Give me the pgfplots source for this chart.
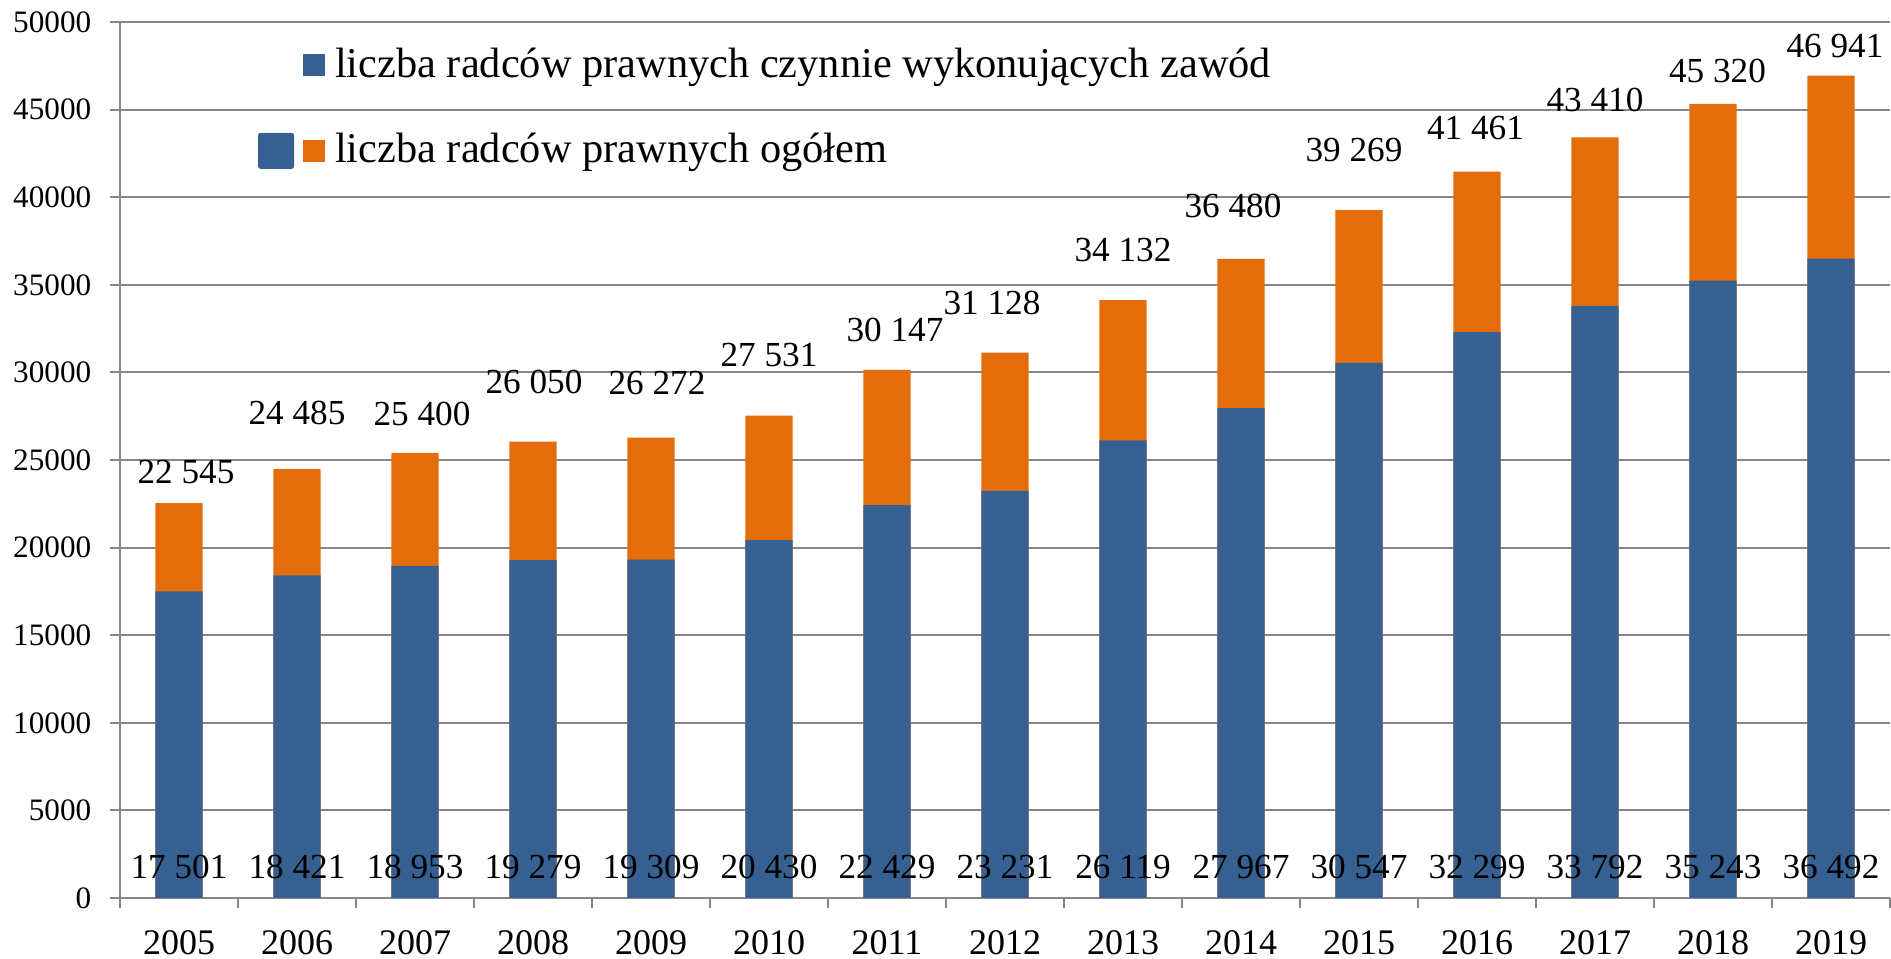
\documentclass[border=0pt]{standalone}
\usepackage{fontspec}
\setmainfont{Liberation Serif}
\usepackage{pgfplots}
\usepackage{pgfplotstable}
\pgfplotsset{compat=1.18}
\definecolor{cblue}{HTML}{376092}
\definecolor{corange}{HTML}{E46C0A}
\definecolor{cgrid}{HTML}{868686}
\newcommand\lbl{\fontsize{8.8}{10}\selectfont}

\pgfplotstableread{
x year active total base dx dy
0 2005 17501 22545 0 1.75 5
1 2006 18421 24485 0 0 11.25
2 2007 18953 25400 0 1.75 6.75
3 2008 19279 26050 0 0.25 12
4 2009 19309 26272 0 1.5 10.75
5 2010 20430 27531 0 0 12.25
6 2011 22429 30147 0 2 7
7 2012 23231 31128 0 -3.25 9.5
8 2013 26119 34132 0 0 9.75
9 2014 27967 36480 0 -2 10.25
10 2015 30547 39269 0 -1.25 12
11 2016 32299 41461 0 -0.375 8
12 2017 33792 43410 0 0 6.5
13 2018 35243 45320 0 1.125 5.25
14 2019 36492 46941 0 1 4.5
}\data

\begin{document}
\begin{tikzpicture}
\begin{axis}[
  scale only axis, width=442.5pt, height=219pt,
  xmin=-0.5, xmax=14.5, ymin=0, ymax=50000,
  axis x line*=bottom, axis y line*=left,
  axis line style={cgrid, line width=0.5pt},
  ymajorgrids, grid style={cgrid, line width=0.5pt},
  ytick={0,5000,...,50000},
  scaled y ticks=false,
  y tick label style={/pgf/number format/1000 sep={}, /pgf/number format/fixed, /pgf/number format/precision=0, /pgf/number format/assume math mode=true, font=\fontsize{7.8}{9}\selectfont, inner sep=0pt, xshift=-4.5pt},
  xtick={-0.5,0.5,...,14.5},
  x tick label as interval,
  xticklabels={2005,2006,2007,2008,2009,2010,2011,2012,2013,2014,2015,2016,2017,2018,2019,},
  x tick label style={font=\fontsize{9}{10}\selectfont, inner sep=0pt, yshift=-5.5pt},
  tick align=outside,
  major tick length=2.5pt,
  tick style={cgrid, line width=0.5pt},
  clip=false,
  legend cell align=left,
  legend style={draw=none, fill=none, at={(0.078,0.971)}, anchor=north west,
    inner sep=0pt, outer sep=0pt, row sep=12.35pt, column sep=0pt,
    nodes={inner sep=0pt, outer sep=0pt},
    font=\fontsize{10.6}{12.7}\selectfont},
]
\addplot[ybar, bar width=0.4, bar shift=0pt, fill=corange, draw=none, forget plot,
  nodes near coords={\pgfmathprintnumber[fixed, precision=0, 1000 sep={\ }, assume math mode=true]{\pgfplotspointmeta}},
  point meta=explicit,
  visualization depends on={\thisrow{dx} \as \labdx},
  visualization depends on={\thisrow{dy} \as \labdy},
  every node near coord/.append style={anchor=base, inner sep=0pt, xshift=\labdx pt, yshift=\labdy pt, font=\lbl, text=black}]
  table[x=x, y=total, meta=total]{\data};
\addplot[ybar, bar width=0.4, bar shift=0pt, fill=cblue, draw=none, forget plot]
  table[x=x, y=active]{\data};
\addplot[draw=none, mark=none, forget plot,
  nodes near coords={\pgfmathprintnumber[fixed, precision=0, 1000 sep={\ }, assume math mode=true]{\pgfplotspointmeta}},
  point meta=explicit,
  every node near coord/.append style={anchor=base, inner sep=0pt, yshift=4.75pt, font=\lbl, text=black}]
  table[x=x, y=base, meta=active]{\data};
\addlegendimage{legend image code/.code={
  \path[draw=none, fill=none] (0pt,-4.5pt) rectangle (19.25pt,4.5pt);
  \path[fill=cblue, draw=none] (11.25pt,-2.75pt) rectangle (16.75pt,2.75pt);}}
\addlegendentry{liczba radców prawnych czynnie wykonujących zawód}
\addlegendimage{legend image code/.code={
  \path[draw=none, fill=none] (0pt,-4.5pt) rectangle (19.25pt,4.5pt);
  \path[fill=cblue, draw=none, rounded corners=0.6pt] (0pt,-4.5pt) rectangle (9pt,4.5pt);
  \path[fill=corange, draw=none] (11.25pt,-2.75pt) rectangle (16.75pt,2.75pt);}}
\addlegendentry{liczba radców prawnych ogółem}
\end{axis}
\pgfresetboundingbox
\path (-30pt,-15.25pt) rectangle (442.75pt,224.5pt);
\end{tikzpicture}
\end{document}
